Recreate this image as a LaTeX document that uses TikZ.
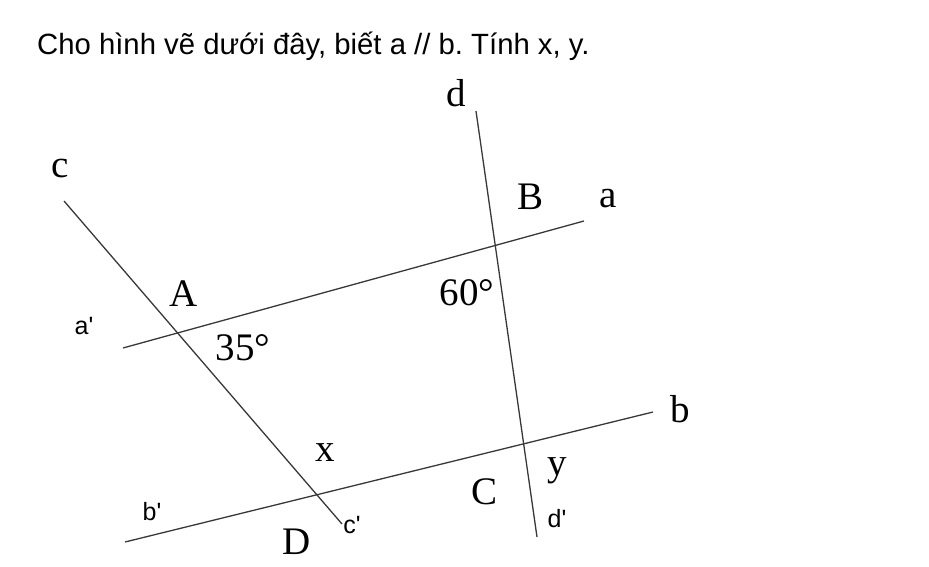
\documentclass[tikz,border=0pt]{standalone}
\usepackage{fontspec}
\setmainfont{Liberation Serif}
\newfontfamily\arialfont{Liberation Sans}
\usepackage{tikz}
\usetikzlibrary{positioning, calc}
\frenchspacing

\begin{document}
\begin{tikzpicture}[
        x=1pt, y=-1pt,
        every node/.style={inner sep=0pt, font=\fontsize{39}{39}\selectfont},
        prime/.style={font=\arialfont\fontsize{25}{25}\selectfont},
        line/.style={line width=1.3pt, black!78}
    ]
        \useasboundingbox (0,0) rectangle (929,567);
        \node[anchor=base west, font=\arialfont\fontsize{29.3}{29.3}\selectfont] (title) at (37,55) {Cho hình vẽ dưới đây, biết a // b. Tính x, y.};
        
        % ends of the four lines
        \coordinate (c1) at (64,201);  \coordinate (c2) at (342,524);
        \coordinate (a1) at (123,348); \coordinate (a2) at (584,221);
        \coordinate (d1) at (476,111); \coordinate (d2) at (537,537);
        \coordinate (b1) at (125,542); \coordinate (b2) at (653,412);
        
        \draw[line] (c1) -- (c2);
        \draw[line] (a1) -- (a2);
        \draw[line] (d1) -- (d2);
        \draw[line] (b1) -- (b2);
        
        % line names
        \node (c) at (60,169) {c};
        \node (d) at (456,93) {d};
        \node (a) at (608,199) {a};
        \node (b) at (680,409) {b};
        \node[prime] (ap) at (84,326) {a\textquotesingle};
        \node[prime] (bp) at (152,512) {b\textquotesingle};
        \node[prime] (cp) at (352,525) {c\textquotesingle};
        \node[prime] (dp) at (557,519) {d\textquotesingle};
        
        % points and angles
        \node (A) at (184,294) {A};
        \node (B) at (530,197) {B};
        \node (C) at (485,492) {C};
        \node (D) at (297,542) {D};
        \node (ang35) at (243,348) {35°};
        \node (ang60) at (467,293) {60°};
        \node (x) at (325,453) {x};
        \node (y) at (557,471) {y};
    \end{tikzpicture}
\end{document}
